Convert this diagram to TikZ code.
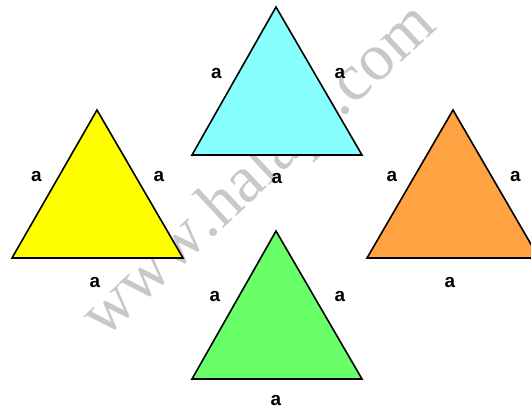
\documentclass[tikz,border=0pt]{standalone}
\usepackage{fontspec}
\usetikzlibrary{decorations.text}
\setmainfont{Liberation Sans}
\newfontfamily\wmfont{Liberation Serif}
\definecolor{tcyan}{RGB}{136,255,255}
\definecolor{tyellow}{RGB}{255,255,0}
\definecolor{torange}{RGB}{255,162,66}
\definecolor{tgreen}{RGB}{104,255,104}
\definecolor{wmgray}{RGB}{200,200,200}
\begin{document}
\begin{tikzpicture}[x=1bp,y=-1bp,
  tri/.style={draw=black,line width=1.6bp,line join=miter},
  lbl/.style={inner sep=0pt,font=\fontsize{19}{21}\selectfont\bfseries}]
\useasboundingbox (0,0) rectangle (531,409);
\clip (0,0) rectangle (531,409);
% watermark
\coordinate (wa) at (104,339);
\coordinate (wb) at (470,-1);
\path[decorate,decoration={text along path,
  text={|\wmfont\fontsize{67}{69}\selectfont\color{wmgray}|www.halapt.com}}] (wa) -- (wb);
% top cyan
\coordinate (t1) at (276,7);
\coordinate (t2) at (192,155);
\coordinate (t3) at (362,155);
\filldraw[tri,fill=tcyan] (t1) -- (t2) -- (t3) -- cycle;
% left yellow
\coordinate (l1) at (97,110);
\coordinate (l2) at (12,258);
\coordinate (l3) at (183,258);
\filldraw[tri,fill=tyellow] (l1) -- (l2) -- (l3) -- cycle;
% right orange
\coordinate (r1) at (453,110);
\coordinate (r2) at (367,258);
\coordinate (r3) at (539,258);
\filldraw[tri,fill=torange] (r1) -- (r2) -- (r3) -- cycle;
% bottom green
\coordinate (b1) at (276,231);
\coordinate (b2) at (192,379);
\coordinate (b3) at (362,379);
\filldraw[tri,fill=tgreen] (b1) -- (b2) -- (b3) -- cycle;
% labels
\node[lbl] (tl) at (216.5,73) {a};
\node[lbl] (tr) at (340,73) {a};
\node[lbl] (tb) at (277,178.5) {a};
\node[lbl] (ll) at (36.5,176) {a};
\node[lbl] (lr) at (159,176) {a};
\node[lbl] (lb) at (95,282) {a};
\node[lbl] (rl) at (392,176) {a};
\node[lbl] (rr) at (515.5,176) {a};
\node[lbl] (rb) at (450,282) {a};
\node[lbl] (bl) at (215,296) {a};
\node[lbl] (br) at (340,296) {a};
\node[lbl] (bb) at (276,400.5) {a};
\end{tikzpicture}
\end{document}
